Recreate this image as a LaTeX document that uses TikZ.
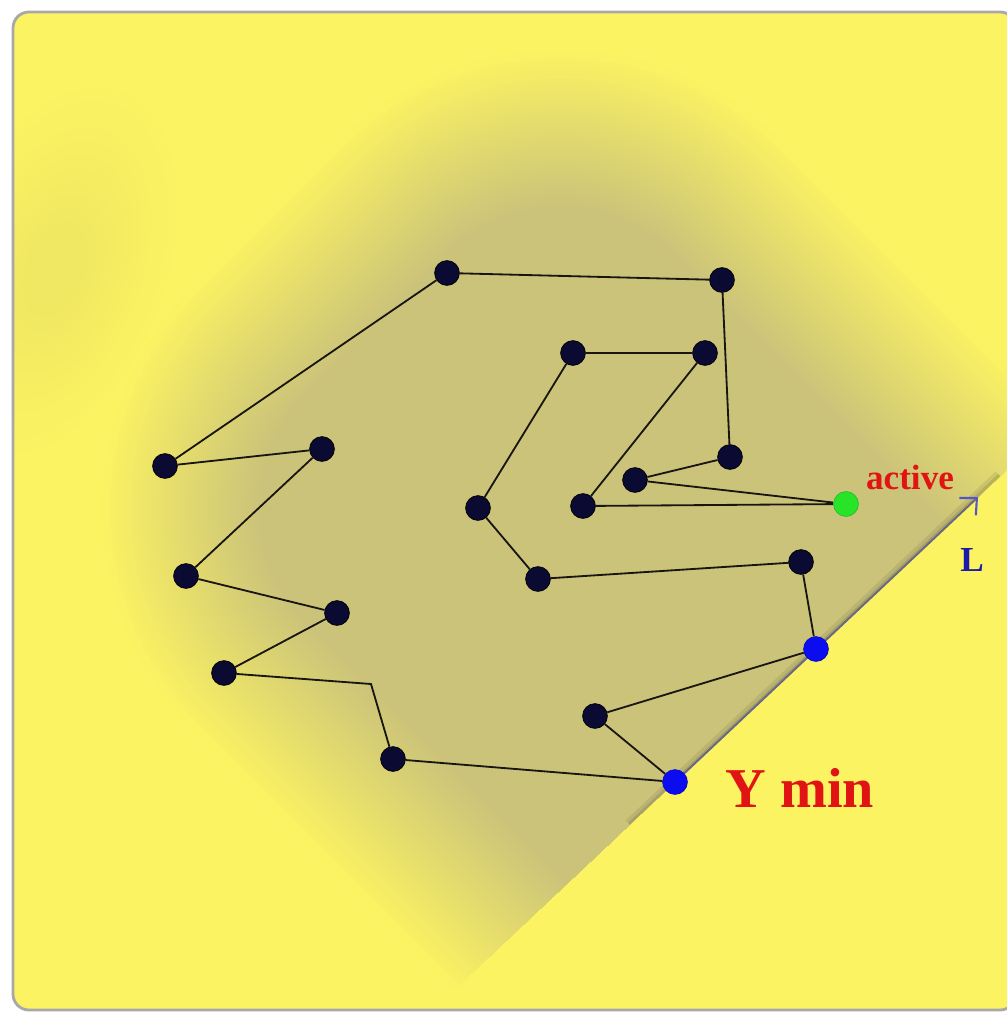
\documentclass[tikz,border=0pt]{standalone}
\usepackage{fontspec}
\setmainfont{Liberation Serif}
\usetikzlibrary{arrows.meta}
\definecolor{bgyellow}{RGB}{252,243,98}
\definecolor{khaki}{RGB}{203,195,122}
\definecolor{framegray}{RGB}{168,168,168}
\definecolor{navy}{RGB}{10,10,50}
\definecolor{vgreen}{RGB}{40,228,40}
\definecolor{vblue}{RGB}{12,12,240}
\definecolor{lred}{RGB}{225,20,20}
\definecolor{lblue}{RGB}{25,25,170}
\definecolor{edgecol}{RGB}{25,22,18}
\definecolor{linegray}{RGB}{105,105,135}
\definecolor{arrowblue}{RGB}{85,85,205}
\pgfdeclarelayer{bg}
\pgfdeclarelayer{edges}
\pgfsetlayers{bg,edges,main}
\begin{document}
\begin{tikzpicture}[x=0.025cm,y=-0.025cm,
  vertex/.style={circle, fill=navy, draw=black, line width=0.5pt, inner sep=0pt, minimum size=0.62cm},
  bluevertex/.style={vertex, fill=vblue, draw=vblue!80!black},
  activevertex/.style={vertex, fill=vgreen, draw=vgreen!85!black},
  edge/.style={draw=edgecol, line width=1.3pt},
  lline/.style={draw=linegray, line width=1.4pt, -{Straight Barb[length=9pt,width=17pt,color=arrowblue,line width=1.5pt]}},
  lbl/.style={inner sep=0pt, font=\bfseries}]
\useasboundingbox (0,0) rectangle (1007,1014);
% positions
\node[vertex] (A) at (447,273) {};
\node[vertex] (B) at (722,280) {};
\node[vertex] (C) at (730,457) {};
\node[vertex] (D) at (635,480) {};
\node[activevertex] (E) at (846,504) {};
\node[vertex] (F) at (583,506) {};
\node[vertex] (G) at (705,353) {};
\node[vertex] (H) at (573,353) {};
\node[vertex] (I) at (478,508) {};
\node[vertex] (J) at (538,579) {};
\node[vertex] (K) at (801,562) {};
\node[bluevertex] (U) at (816,649) {};
\node[vertex] (M) at (595,716) {};
\node[bluevertex] (N) at (675,782) {};
\node[vertex] (O) at (393,759) {};
\coordinate (bend) at (371,684);
\node[vertex] (P) at (224,673) {};
\node[vertex] (Q) at (337,613) {};
\node[vertex] (R) at (186,576) {};
\node[vertex] (S) at (322,449) {};
\node[vertex] (T) at (165,466) {};
\coordinate (Ltip) at (978,497);
% background
\begin{pgfonlayer}{bg}
\fill[white] (0,0) rectangle (1007,1014);
\filldraw[fill=bgyellow, draw=framegray, line width=2pt, rounded corners=0.4cm] (13,12) rectangle (1016,1010);
\begin{scope}
  \clip[rounded corners=0.4cm] (14,13) rectangle (1015,1009);
  \foreach \i in {0,...,11} {
    \fill[khaki, fill opacity=0.010, rotate around={-20:(55,270)}] (55,270) ellipse ({110-8*\i} and {190-14*\i});
  }
  \begin{scope}
  \clip (221,1209) -- (1129,355) -- (1129,-100) -- (-100,-100) -- (-100,1209) -- cycle;
  \begin{scope}[shift={(652,621)}, rotate=-45]
  \foreach \i in {0,...,40} {
    \pgfmathsetmacro{\d}{80-160*\i/40}
    \pgfmathsetmacro{\p}{100*\i/40}
    \pgfmathsetmacro{\rc}{0.025*(240+\d)}
    \fill[khaki!\p!bgyellow, rounded corners=\rc cm] ({-485-\d},{-355-\d}) rectangle ({900+\d},{325+\d});
  }
  \end{scope}
  \draw[line width=9pt, black, opacity=0.08] (630,825) -- (1000,476);
  \draw[line width=4pt, black, opacity=0.10] (630,825) -- (1000,476);
  \end{scope}
\end{scope}
\end{pgfonlayer}
% edges
\begin{pgfonlayer}{edges}
\draw[edge] (A) -- (B);
\draw[edge] (B) -- (C);
\draw[edge] (C) -- (D);
\draw[edge] (D) -- (E);
\draw[edge] (E) -- (F);
\draw[edge] (F) -- (G);
\draw[edge] (G) -- (H);
\draw[edge] (H) -- (I);
\draw[edge] (I) -- (J);
\draw[edge] (J) -- (K);
\draw[edge] (K) -- (U);
\draw[edge] (U) -- (M);
\draw[edge] (M) -- (N);
\draw[edge] (N) -- (O);
\draw[edge] (O) -- (bend) -- (P);
\draw[edge] (P) -- (Q);
\draw[edge] (Q) -- (R);
\draw[edge] (R) -- (S);
\draw[edge] (S) -- (T);
\draw[edge] (T) -- (A);
\draw[lline] (N.center) -- (Ltip);
\end{pgfonlayer}
% labels
\node[lbl, text=lred, font=\bfseries\fontsize{25}{30}\selectfont] (lactive) at (910,477) {active};
\node[lbl, text=lred, font=\bfseries\fontsize{40}{48}\selectfont] (lymin) at (800,788) {Y min};
\node[lbl, text=lblue, font=\bfseries\fontsize{25}{30}\selectfont] (lL) at (972,560) {L};
\end{tikzpicture}
\end{document}
